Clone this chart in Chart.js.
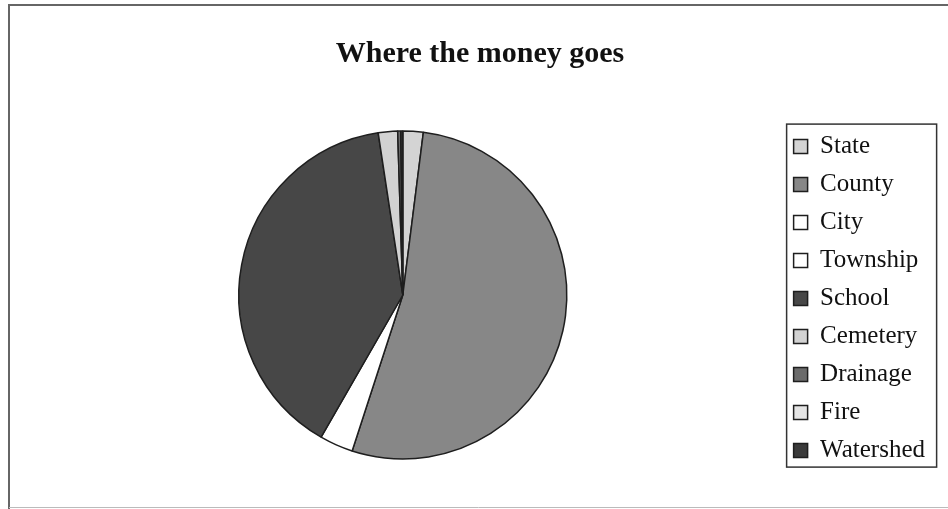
<!DOCTYPE html>
<html>
<head>
<meta charset="utf-8">
<style>
  html, body { margin: 0; padding: 0; background: #ffffff; }
  canvas { display: block; }
</style>
<script src="https://cdn.jsdelivr.net/npm/chart.js@4/dist/chart.umd.min.js"></script>
</head>
<body>
<canvas id="chart" width="948" height="509"></canvas>
<script>
// Property tax distribution, share of each levy (percent)
const categories = ['State', 'County', 'City', 'Township', 'School', 'Cemetery', 'Drainage', 'Fire', 'Watershed'];
const shares = [2.0, 53.0, 3.3, 0, 39.3, 1.9, 0.3, 0, 0.2];
const sliceColors = ['#d4d4d4', '#878787', '#ffffff', '#ffffff', '#474747', '#d2d2d2', '#6b6b6b', '#e4e4e4', '#3a3a3a'];
const chartTitle = 'Where the money goes';

// White page with the outer frame lines
const pageFrame = {
  id: 'pageFrame',
  beforeDraw(chart) {
    const ctx = chart.ctx;
    ctx.save();
    ctx.fillStyle = '#ffffff';
    ctx.fillRect(0, 0, chart.width, chart.height);
    ctx.strokeStyle = '#666666';
    ctx.lineWidth = 2;
    ctx.beginPath();
    ctx.moveTo(9, chart.height);
    ctx.lineTo(9, 5);
    ctx.lineTo(chart.width, 5);
    ctx.stroke();
    ctx.strokeStyle = '#bbbbbb';
    ctx.lineWidth = 1;
    ctx.beginPath();
    ctx.moveTo(9, chart.height - 1.5);
    ctx.lineTo(chart.width, chart.height - 1.5);
    ctx.stroke();
    ctx.restore();
  }
};

// Box drawn round the legend entries
const legendFrame = {
  id: 'legendFrame',
  afterDraw(chart) {
    const lg = chart.legend;
    if (!lg || !lg.legendHitBoxes || !lg.legendHitBoxes.length) return;
    const boxes = lg.legendHitBoxes;
    const first = boxes[0];
    const last = boxes[boxes.length - 1];
    const x0 = first.left - 7;
    const y0 = first.top - 10;
    const y1 = last.top + last.height + 4;
    const x1 = x0 + 150;
    const ctx = chart.ctx;
    ctx.save();
    ctx.strokeStyle = '#333333';
    ctx.lineWidth = 1.5;
    ctx.strokeRect(x0, y0, x1 - x0, y1 - y0);
    ctx.restore();
  }
};

new Chart(document.getElementById('chart'), {
  type: 'pie',
  data: {
    labels: categories,
    datasets: [{
      data: shares,
      backgroundColor: sliceColors,
      borderColor: '#1e1e1e',
      borderWidth: 1.5,
      radius: 164
    }]
  },
  options: {
    responsive: false,
    animation: false,
    devicePixelRatio: 1,
    layout: { padding: { left: 25, right: 13, top: 10, bottom: 19 } },
    plugins: {
      title: {
        display: true,
        text: chartTitle,
        color: '#111111',
        font: { family: "'Liberation Serif', 'Times New Roman', serif", size: 30, weight: 'bold' },
        padding: { top: 26, bottom: 28 }
      },
      legend: {
        display: true,
        position: 'right',
        fullSize: false,
        align: 'center',
        title: {
          display: true,
          text: ' ',
          padding: 0,
          font: { size: 6 }
        },
        labels: {
          color: '#111111',
          font: { family: "'Liberation Serif', 'Times New Roman', serif", size: 25 },
          boxWidth: 14,
          boxHeight: 14,
          padding: 13
        }
      },
      tooltip: { enabled: false }
    }
  },
  plugins: [pageFrame, legendFrame]
});
</script>
</body>
</html>
